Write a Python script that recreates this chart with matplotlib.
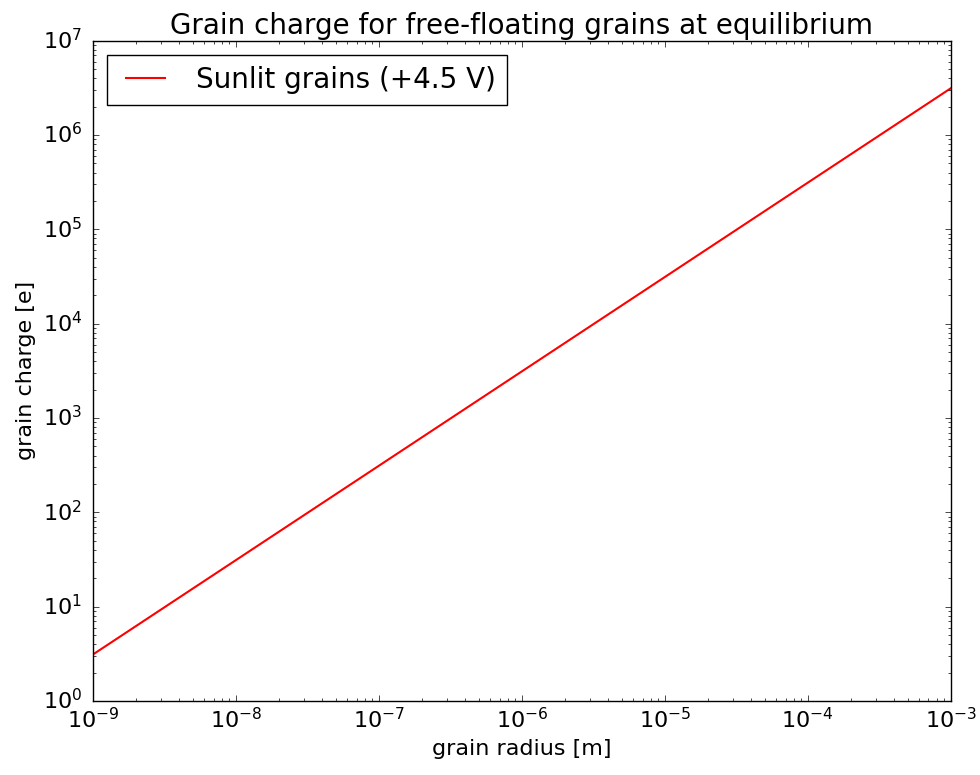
import matplotlib
matplotlib.use("Agg")
import matplotlib.pyplot as plt

plt.style.use("classic")

radius = [1e-9, 1e-8, 1e-7, 1e-6, 1e-5, 1e-4, 1e-3]
charge = [3.12, 31.2, 312, 3120, 31200, 312000, 3.12e6]
series_label = "Sunlit grains (+4.5 V)"

fig = plt.figure(figsize=(9.8, 7.75), dpi=100)
ax = fig.add_axes([0.095, 0.0955, 0.875, 0.852])
ax.loglog(radius, charge, color="red", lw=1.5, label=series_label)
ax.set_xlim(1e-9, 1e-3)
ax.set_ylim(1e0, 1e7)
ax.tick_params(labelsize=16)
ax.tick_params(axis="y", which="major", pad=8)
ax.set_title("Grain charge for free-floating grains at equilibrium", fontsize=20)
ax.set_xlabel("grain radius [m]", fontsize=16)
ax.set_ylabel("grain charge [e]", fontsize=16)
ax.legend(loc="upper left", fontsize=20)
fig.savefig("out.png", dpi=100)
